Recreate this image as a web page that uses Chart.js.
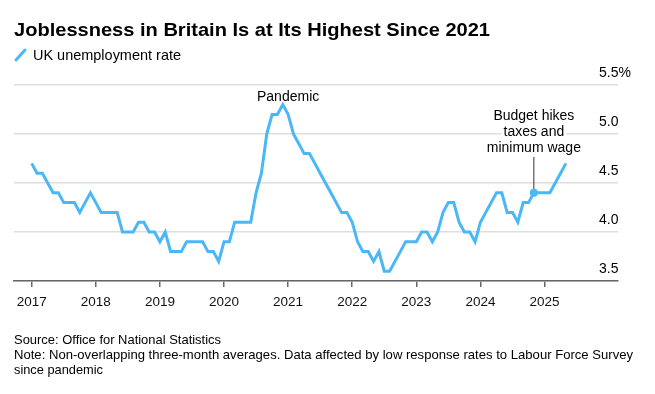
<!DOCTYPE html>
<html>
<head>
<meta charset="utf-8">
<script src="https://cdn.jsdelivr.net/npm/chart.js"></script>
<style>
  body { margin: 0; background: #fff; }
</style>
</head>
<body>
<canvas id="myChart" width="655" height="394"></canvas>
<script>
// monthly UK unemployment rate, Jan 2017 .. May 2025
const years = ["2017", "2018", "2019", "2020", "2021", "2022", "2023", "2024", "2025"]
const rates = [
  4.7, 4.6, 4.6, 4.5, 4.4, 4.4, 4.3, 4.3, 4.3, 4.2, 4.3, 4.4, // 2017
  4.3, 4.2, 4.2, 4.2, 4.2, 4.0, 4.0, 4.0, 4.1, 4.1, 4.0, 4.0, // 2018
  3.9, 4.0, 3.8, 3.8, 3.8, 3.9, 3.9, 3.9, 3.9, 3.8, 3.8, 3.7, // 2019
  3.9, 3.9, 4.1, 4.1, 4.1, 4.1, 4.4, 4.6, 5.0, 5.2, 5.2, 5.3, // 2020
  5.2, 5.0, 4.9, 4.8, 4.8, 4.7, 4.6, 4.5, 4.4, 4.3, 4.2, 4.2, // 2021
  4.1, 3.9, 3.8, 3.8, 3.7, 3.8, 3.6, 3.6, 3.7, 3.8, 3.9, 3.9, // 2022
  3.9, 4.0, 4.0, 3.9, 4.0, 4.2, 4.3, 4.3, 4.1, 4.0, 4.0, 3.9, // 2023
  4.1, 4.2, 4.3, 4.4, 4.4, 4.2, 4.2, 4.1, 4.3, 4.3, 4.4, 4.4, // 2024
  4.4, 4.4, 4.5, 4.6, 4.7                                     // 2025
]
const yTicks = [3.5, 4.0, 4.5, 5.0, 5.5]
const yTickLabels = ["3.5", "4.0", "4.5", "5.0", "5.5%"]

const titleText = "Joblessness in Britain Is at Its Highest Since 2021"
const seriesName = "UK unemployment rate"
const footLines = [
  "Source: Office for National Statistics",
  "Note: Non-overlapping three-month averages. Data affected by low response rates to Labour Force Survey",
  "since pandemic"
]
const pandemicLabel = "Pandemic"
const pandemicMonth = 48
const budgetLines = ["Budget hikes", "taxes and", "minimum wage"]
const budgetMonth = 94

const blue = "#4ab7f6"
const font = "'Liberation Sans', Arial, sans-serif"

function fitText(ctx, text, x, y, w) {
  const m = ctx.measureText(text).width
  ctx.save()
  ctx.translate(x, y)
  ctx.scale(w / m, 1)
  ctx.fillText(text, 0, 0)
  ctx.restore()
}

const extras = {
  id: "extras",
  afterDatasetsDraw(chart) {
    const ctx = chart.ctx
    const xs = chart.scales.x
    const ys = chart.scales.y
    ctx.save()
    ctx.fillStyle = "#000"
    ctx.textBaseline = "alphabetic"

    // title + legend
    ctx.textAlign = "left"
    ctx.font = "bold 18.5px " + font
    fitText(ctx, titleText, 14, 36, 476)
    ctx.strokeStyle = blue
    ctx.lineWidth = 3
    ctx.lineCap = "round"
    ctx.beginPath()
    ctx.moveTo(16, 60)
    ctx.lineTo(25, 50)
    ctx.stroke()
    ctx.font = "14.5px " + font
    fitText(ctx, seriesName, 33, 59.5, 148)

    // y labels above the grid lines
    ctx.font = "14px " + font
    yTicks.forEach((v, i) => {
      ctx.fillText(yTickLabels[i], 599, ys.getPixelForValue(v) - 8)
    })

    // footer
    ctx.font = "13px " + font
    fitText(ctx, footLines[0], 14, 344, 207)
    fitText(ctx, footLines[1], 14, 359, 619)
    fitText(ctx, footLines[2], 14, 374, 89)

    // pandemic note
    ctx.textAlign = "center"
    ctx.font = "14px " + font
    ctx.fillText(pandemicLabel, xs.getPixelForValue(pandemicMonth), 101)

    // budget note
    const bx = xs.getPixelForValue(budgetMonth)
    const by = ys.getPixelForValue(rates[budgetMonth])
    budgetLines.forEach((t, i) => {
      const w = ctx.measureText(t).width
      ctx.fillStyle = "#fff"
      ctx.fillRect(bx - w / 2 - 2, 120 + i * 16 - 12, w + 4, 16)
    })
    ctx.fillStyle = "#000"
    budgetLines.forEach((t, i) => {
      ctx.fillText(t, bx, 120 + i * 16)
    })
    ctx.strokeStyle = "#333"
    ctx.lineWidth = 1
    ctx.lineCap = "butt"
    ctx.beginPath()
    ctx.moveTo(bx, 157)
    ctx.lineTo(bx, by)
    ctx.stroke()
    ctx.fillStyle = blue
    ctx.beginPath()
    ctx.arc(bx, by, 4, 0, Math.PI * 2)
    ctx.fill()
    ctx.restore()
  }
}

const ctx = document.getElementById("myChart").getContext("2d")
new Chart(ctx, {
  type: "line",
  data: {
    datasets: [
      {
        label: seriesName,
        data: rates.map((r, i) => ({ x: i, y: r })),
        borderColor: blue,
        borderWidth: 3,
        pointRadius: 0,
        tension: 0,
      },
    ],
  },
  options: {
    responsive: false,
    animation: false,
    devicePixelRatio: 1,
    layout: { padding: { top: 85, left: 14, right: 37, bottom: 83 } },
    plugins: { legend: { display: false }, tooltip: { enabled: false } },
    scales: {
      x: {
        type: "linear",
        min: -3.31,
        max: 109.75,
        afterBuildTicks: s => { s.ticks = years.map((y, i) => ({ value: i * 12 })) },
        afterFit: s => { s.height = 30 },
        ticks: {
          callback: v => years[v / 12],
          color: "#111",
          font: { size: 13.5, family: font },
          padding: 7,
          maxRotation: 0,
          autoSkip: false,
        },
        grid: { drawOnChartArea: false, tickLength: 6, color: "#666", lineWidth: 1.5 },
        border: { color: "#666", width: 1.5 },
      },
      y: {
        position: "right",
        min: 3.5,
        max: 5.5,
        afterBuildTicks: s => { s.ticks = yTicks.map(v => ({ value: v })) },
        afterFit: s => { s.width = 0 },
        ticks: { display: false },
        grid: { color: "#dedede", lineWidth: 1.5, drawTicks: false },
        border: { display: false },
      },
    },
  },
  plugins: [extras],
})
</script>
</body>
</html>
